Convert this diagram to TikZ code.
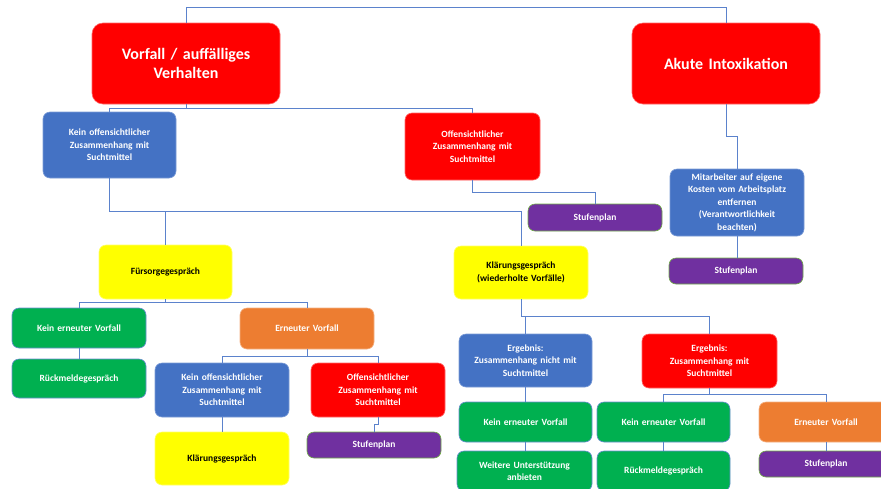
\documentclass[tikz,border=0pt]{standalone}
\usepackage{fontspec}
\setmainfont{Carlito}
\definecolor{cred}{HTML}{FF0000}
\definecolor{cblue}{HTML}{4472C4}
\definecolor{cyellow}{HTML}{FFFF00}
\definecolor{cgreen}{HTML}{00B050}
\definecolor{corange}{HTML}{ED7D31}
\definecolor{cpurple}{HTML}{7030A0}
\definecolor{cline}{HTML}{5B82CC}
\definecolor{cpborder}{HTML}{70AD47}
\begin{document}
\begin{tikzpicture}[x=1pt,y=-1pt,
  box/.style={rectangle, rounded corners=7pt, align=center, inner sep=2pt,
    font=\fontsize{9.5}{12.5}\selectfont\bfseries, text=white, line width=0.6pt},
  big/.style={box, rounded corners=11pt, font=\fontsize{16}{19.5}\selectfont\bfseries},
  redbox/.style={fill=cred, draw=cred!60!white},
  bluebox/.style={fill=cblue, draw=cblue!70!white},
  yelbox/.style={fill=cyellow, draw=cyellow!60!white, text=black},
  grnbox/.style={fill=cgreen, draw=cblue!80!white},
  orgbox/.style={fill=corange, draw=corange!60!white},
  purbox/.style={fill=cpurple, draw=cpborder},
  conn/.style={draw=cline, line width=1pt}
]
\useasboundingbox (0,0) rectangle (881,488);
\clip (0,0) rectangle (881,488);
\fill[white] (0,0) rectangle (881,488);

% nodes
\node[big, redbox, minimum width=188pt, minimum height=81pt, text width=180pt] (A) at (186,63.5) {Vorfall / auffälliges\\Verhalten};
\node[big, redbox, minimum width=188pt, minimum height=81pt, text width=180pt] (B) at (726,63.5) {Akute Intoxikation};

\node[box, bluebox, minimum width=133pt, minimum height=66pt, text width=125pt] (K1) at (109.5,145) {Kein offensichtlicher\\Zusammenhang mit\\Suchtmittel};
\node[box, redbox, minimum width=135pt, minimum height=67pt, text width=127pt] (O1) at (472.5,146.5) {Offensichtlicher\\Zusammenhang mit\\Suchtmittel};
\node[box, purbox, minimum width=134pt, minimum height=27pt, text width=126pt] (S1) at (595,217.5) {Stufenplan};
\node[box, bluebox, minimum width=134pt, minimum height=67pt, text width=126pt] (M) at (737,202.5) {Mitarbeiter auf eigene\\Kosten vom Arbeitsplatz\\entfernen\\(Verantwortlichkeit\\beachten)};
\node[box, purbox, minimum width=134pt, minimum height=26pt, text width=126pt] (S2) at (736,271) {Stufenplan};

\node[box, yelbox, minimum width=133pt, minimum height=54pt, text width=125pt] (F) at (165.5,272) {Fürsorgegespräch};
\node[box, yelbox, minimum width=134pt, minimum height=53pt, text width=126pt] (KL) at (521,272.5) {Klärungsgespräch\\(wiederholte Vorfälle)};

\node[box, grnbox, minimum width=134pt, minimum height=40pt, text width=126pt] (KV1) at (79,328) {Kein erneuter Vorfall};
\node[box, grnbox, minimum width=134pt, minimum height=39pt, text width=126pt] (R1) at (79,378.5) {Rückmeldegespräch};
\node[box, orgbox, minimum width=134pt, minimum height=41pt, text width=126pt] (EV1) at (307,328.5) {Erneuter Vorfall};
\node[box, bluebox, minimum width=134pt, minimum height=54pt, text width=126pt] (K2) at (222,390) {Kein offensichtlicher\\Zusammenhang mit\\Suchtmittel};
\node[box, redbox, minimum width=134pt, minimum height=54pt, text width=126pt] (O2) at (378,390) {Offensichtlicher\\Zusammenhang mit\\Suchtmittel};
\node[box, yelbox, minimum width=134pt, minimum height=53pt, text width=126pt] (KL2) at (222,458.5) {Klärungsgespräch};
\node[box, purbox, minimum width=134pt, minimum height=26pt, text width=126pt] (S3) at (374,445) {Stufenplan};

\node[box, bluebox, minimum width=133pt, minimum height=53pt, text width=125pt] (E1) at (525.5,360.5) {Ergebnis:\\Zusammenhang nicht mit\\Suchtmittel};
\node[box, redbox, minimum width=135pt, minimum height=54pt, text width=127pt] (E2) at (709.5,361) {Ergebnis:\\Zusammenhang mit\\Suchtmittel};
\node[box, grnbox, minimum width=133pt, minimum height=40pt, text width=125pt] (KV2) at (525.5,422) {Kein erneuter Vorfall};
\node[box, grnbox, minimum width=135pt, minimum height=40pt, text width=127pt] (W) at (524.5,471) {Weitere Unterstützung\\anbieten};
\node[box, grnbox, minimum width=133pt, minimum height=40pt, text width=125pt] (KV3) at (663.5,422) {Kein erneuter Vorfall};
\node[box, grnbox, minimum width=133pt, minimum height=40pt, text width=125pt] (R2) at (663.5,471) {Rückmeldegespräch};
\node[box, orgbox, minimum width=134pt, minimum height=40pt, text width=126pt] (EV2) at (826,422) {Erneuter Vorfall};
\node[box, purbox, minimum width=134pt, minimum height=26pt, text width=126pt] (S4) at (826,464) {Stufenplan};

% bus levels
\coordinate (y0) at (0,7);
\coordinate (y1) at (0,108);
\coordinate (y2) at (0,211);
\coordinate (y3) at (0,192);
\coordinate (y4) at (0,136);
\coordinate (y5) at (0,302);
\coordinate (y6) at (0,356);
\coordinate (y7) at (0,424);
\coordinate (y8) at (0,316);
\coordinate (y9) at (0,394);

% connectors
\draw[conn] (A.north) -- (A.north |- y0) -| (B.north);
\draw[conn] (A.south) -- (A.south |- y1) -| (K1.north);
\draw[conn] (A.south |- y1) -| (O1.north);
\draw[conn] (K1.south) |- (KL.north |- y2) -- (KL.north);
\draw[conn] (F.north |- y2) -- (F.north);
\draw[conn] (O1.south) |- (S1.north |- y3) -- (S1.north);
\draw[conn] (B.south) |- (M.north |- y4) -- (M.north);
\draw[conn] (M.south) -- (S2.north -| M.south);
\draw[conn] (F.south) -- (F.south |- y5) -| (KV1.north);
\draw[conn] (F.south |- y5) -| (EV1.north);
\draw[conn] (KV1.south) -- (R1.north);
\draw[conn] (EV1.south) -- (EV1.south |- y6) -| (K2.north);
\draw[conn] (EV1.south |- y6) -| (O2.north);
\draw[conn] (K2.south) -- (KL2.north);
\draw[conn] (O2.south) |- (S3.north |- y7) -- (S3.north);
\draw[conn] (KL.south) |- (E1.north |- y8) -- (E1.north);
\draw[conn] (E1.north |- y8) -| (E2.north);
\draw[conn] (E1.south) -- (KV2.north -| E1.south);
\draw[conn] (KV2.south) -- (W.north -| KV2.south);
\draw[conn] (E2.south) -- (E2.south |- y9) -| (KV3.north);
\draw[conn] (E2.south |- y9) -| (EV2.north);
\draw[conn] (KV3.south) -- (R2.north);
\draw[conn] (EV2.south) -- (S4.north);
\end{tikzpicture}
\end{document}
